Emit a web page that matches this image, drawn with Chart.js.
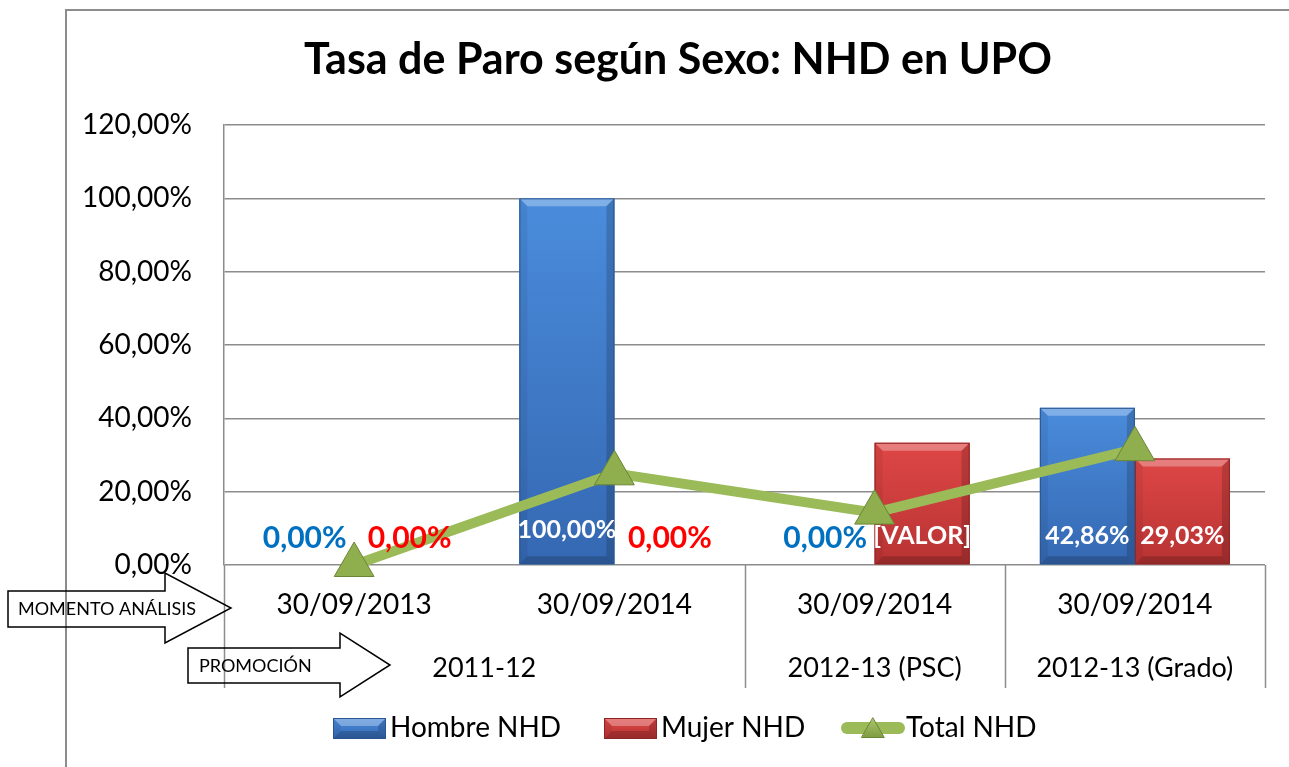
<!DOCTYPE html>
<html><head><meta charset="utf-8">
<script src="https://cdn.jsdelivr.net/npm/chart.js@4.4.1/dist/chart.umd.min.js"></script>
<style>html,body{margin:0;padding:0;background:#fff;overflow:hidden}#wrap{width:1289px;height:767px;position:relative}</style>
</head><body><div id="wrap"><canvas id="c" width="1289" height="767"></canvas></div>
<script>
// ---- data ----
const categories = ['30/09/2013', '30/09/2014', '30/09/2014', '30/09/2014'];
const promotions = ['2011-12', '2012-13 (PSC)', '2012-13 (Grado)'];
const promotionSpans = [2, 1, 1];
const hombre = [0, 100, 0, 42.86];
const mujer = [0, 0, 33.33, 29.03];
const total = [0, 25, 14.29, 31.58];
const hombreLabels = ['0,00%', '100,00%', '0,00%', '42,86%'];
const mujerLabels = ['0,00%', '0,00%', '[VALOR]', '29,03%'];
const seriesNames = ['Hombre NHD', 'Mujer NHD', 'Total NHD'];
const yMin = 0, yMax = 120, yStep = 20;
const titleText = 'Tasa de Paro según Sexo: NHD en UPO';
const arrowTexts = ['MOMENTO ANÁLISIS', 'PROMOCIÓN'];

const FONT = 'Lato, "Open Sans", sans-serif';
const BLUE = {top:'#4A8CDC', bottom:'#3568B2', edge:'#2B5591'};
const RED = {top:'#DE4746', bottom:'#B83333', edge:'#8E2525'};
const GREEN = '#9BBB59';

function fmtPct(v){ return v.toFixed(2).replace('.', ',') + '%'; }

function poly(ctx, pts){ ctx.beginPath(); ctx.moveTo(pts[0][0], pts[0][1]); for (let i=1;i<pts.length;i++) ctx.lineTo(pts[i][0], pts[i][1]); ctx.closePath(); }

function bevelRect(ctx, l, t, r, b, c){
  if (b - t < 1) return;
  const g = ctx.createLinearGradient(0, t, 0, b);
  g.addColorStop(0, c.top); g.addColorStop(1, c.bottom);
  ctx.fillStyle = g; ctx.fillRect(l, t, r - l, b - t);
  const s = Math.min(8, (b - t) / 2, (r - l) / 2);
  ctx.fillStyle = 'rgba(255,255,255,0.30)';
  poly(ctx, [[l,t],[r,t],[r-s,t+s],[l+s,t+s]]); ctx.fill();
  ctx.fillStyle = 'rgba(0,0,0,0.06)';
  poly(ctx, [[l,t],[l+s,t+s],[l+s,b-s],[l,b]]); ctx.fill();
  ctx.fillStyle = 'rgba(0,0,0,0.16)';
  poly(ctx, [[r,t],[r-s,t+s],[r-s,b-s],[r,b]]); ctx.fill();
  ctx.fillStyle = 'rgba(0,0,0,0.18)';
  poly(ctx, [[l,b],[l+s,b-s],[r-s,b-s],[r,b]]); ctx.fill();
  ctx.strokeStyle = c.edge; ctx.lineWidth = 1;
  ctx.strokeRect(l + 0.5, t + 0.5, r - l - 1, b - t - 1);
}

function triangle(ctx, x, y, r){
  const pts = [];
  for (let k = 0; k < 3; k++){ const a = k * 2 * Math.PI / 3; pts.push([x + Math.sin(a) * r, y - Math.cos(a) * r]); }
  const g = ctx.createLinearGradient(0, y - r, 0, y + r / 2);
  g.addColorStop(0, '#A9C66A'); g.addColorStop(1, '#7E9C42');
  ctx.fillStyle = g; poly(ctx, pts); ctx.fill();
  ctx.strokeStyle = '#6B8536'; ctx.lineWidth = 1; ctx.stroke();
}

function drawArrow(ctx, x0, bodyTop, bodyBot, headX, headTop, headBot, tipX){
  const mid = (headTop + headBot) / 2;
  poly(ctx, [[x0,bodyTop],[headX,bodyTop],[headX,headTop],[tipX,mid],[headX,headBot],[headX,bodyBot],[x0,bodyBot]]);
  ctx.strokeStyle = '#000'; ctx.lineWidth = 1.5; ctx.stroke();
}

const deco = {
  id: 'deco',
  beforeDraw(chart){
    const ctx = chart.ctx; ctx.save();
    ctx.fillStyle = '#fff'; ctx.fillRect(0, 0, chart.width, chart.height);
    ctx.strokeStyle = '#8c8c8c'; ctx.lineWidth = 2;
    ctx.beginPath(); ctx.moveTo(66, chart.height); ctx.lineTo(66, 10); ctx.lineTo(chart.width, 10); ctx.stroke();
    ctx.restore();
  },
  afterDatasetDraw(chart, args){
    const ds = chart.data.datasets[args.index];
    if (ds.type === 'line') return;
    const c = args.index === 0 ? BLUE : RED;
    const ctx = chart.ctx; ctx.save();
    args.meta.data.forEach(el => {
      const p = el.getProps(['x','y','base','width'], true);
      bevelRect(ctx, p.x - p.width/2, Math.min(p.y, p.base), p.x + p.width/2, Math.max(p.y, p.base), c);
    });
    ctx.restore();
  },
  afterDraw(chart){
    const ctx = chart.ctx; const xs = chart.scales.x; ctx.save();
    // title
    ctx.fillStyle = '#000'; ctx.font = 'bold 43px ' + FONT; ctx.textAlign = 'center'; ctx.textBaseline = 'alphabetic';
    ctx.fillText(titleText, 678, 74);
    // x axis multi-level
    const catW = (xs.right - xs.left) / categories.length;
    ctx.strokeStyle = '#8c8c8c'; ctx.lineWidth = 1.5;
    let cum = 0; const bounds = [0];
    promotionSpans.forEach(s => { cum += s; bounds.push(cum); });
    bounds.forEach(bi => {
      const px = Math.round(xs.left + bi * catW) + 0.5;
      ctx.beginPath(); ctx.moveTo(px, xs.top); ctx.lineTo(px, 688); ctx.stroke();
    });
    ctx.font = '28px ' + FONT; ctx.textBaseline = 'middle'; ctx.fillStyle = '#000';
    categories.forEach((c, i) => ctx.fillText(c, xs.getPixelForValue(i), 605));
    ctx.font = '27px ' + FONT;
    promotions.forEach((p, i) => {
      const cx = xs.left + (bounds[i] + bounds[i+1]) / 2 * catW;
      ctx.fillText(p, cx, 668);
    });
    // arrows
    drawArrow(ctx, 8, 591, 627, 165, 573, 643, 231);
    drawArrow(ctx, 188, 648, 683, 340, 633, 697, 390);
    ctx.font = '18px ' + FONT; ctx.textAlign = 'left'; ctx.fillStyle = '#000';
    ctx.fillText(arrowTexts[0], 18, 609);
    ctx.fillText(arrowTexts[1], 199, 666);
    // data labels
    ctx.textAlign = 'center'; ctx.textBaseline = 'middle';
    [[hombre, hombreLabels, '#0070C0', -2], [mujer, mujerLabels, '#FF0000', 8]].forEach((s, di) => {
      chart.getDatasetMeta(di).data.forEach((el, i) => {
        const v = s[0][i];
        const p = el.getProps(['x','base'], true);
        if (v === 0){ ctx.font = 'bold 30px ' + FONT; ctx.fillStyle = s[2]; ctx.fillText(s[1][i], p.x + s[3], p.base - 27); }
        else { ctx.font = 'bold 25px ' + FONT; ctx.fillStyle = '#fff'; ctx.fillText(s[1][i], p.x, p.base - (v >= 90 ? 34 : 28)); }
      });
    });
    // legend
    ctx.textAlign = 'left'; ctx.textBaseline = 'middle'; ctx.font = '28px ' + FONT; ctx.fillStyle = '#000';
    bevelRect(ctx, 333, 718, 386, 739, BLUE);
    ctx.fillStyle = '#000'; ctx.fillText(seriesNames[0], 390, 728);
    bevelRect(ctx, 604, 718, 657, 739, RED);
    ctx.fillStyle = '#000'; ctx.fillText(seriesNames[1], 661, 728);
    ctx.strokeStyle = GREEN; ctx.lineWidth = 12; ctx.lineCap = 'round';
    ctx.beginPath(); ctx.moveTo(847, 728); ctx.lineTo(899, 728); ctx.stroke();
    triangle(ctx, 873, 731, 13);
    ctx.fillStyle = '#000'; ctx.fillText(seriesNames[2], 906, 728);
    ctx.restore();
  }
};

new Chart(document.getElementById('c'), {
  type: 'bar',
  data: {
    labels: categories,
    datasets: [
      {label: seriesNames[0], data: hombre, backgroundColor: BLUE.top, order: 2, categoryPercentage: 0.73, barPercentage: 1},
      {label: seriesNames[1], data: mujer, backgroundColor: RED.top, order: 2, categoryPercentage: 0.73, barPercentage: 1},
      {label: seriesNames[2], type: 'line', data: total, borderColor: GREEN, borderWidth: 10, tension: 0, order: 0, clip: false,
       pointStyle: 'triangle', pointRadius: 23, pointHoverRadius: 23, pointBackgroundColor: '#8FAF4E', pointBorderColor: '#6B8536', pointBorderWidth: 1}
    ]
  },
  options: {
    responsive: false, animation: false,
    layout: {padding: {top: 125, left: 0, right: 24, bottom: 79}},
    plugins: {legend: {display: false}, title: {display: false}, tooltip: {enabled: false}},
    scales: {
      x: {grid: {display: false}, border: {display: false}, ticks: {display: false},
          afterFit(s){ s.height = 123; }},
      y: {min: yMin, max: yMax, ticks: {stepSize: yStep, callback: v => fmtPct(v), font: {family: FONT, size: 28}, color: '#000', padding: 32},
          grid: {color: '#8c8c8c', lineWidth: 1.5, drawTicks: false}, border: {display: true, color: '#8c8c8c', width: 1.5},
          afterFit(s){ s.width = 224; }}
    }
  },
  plugins: [deco]
});
</script></body></html>
